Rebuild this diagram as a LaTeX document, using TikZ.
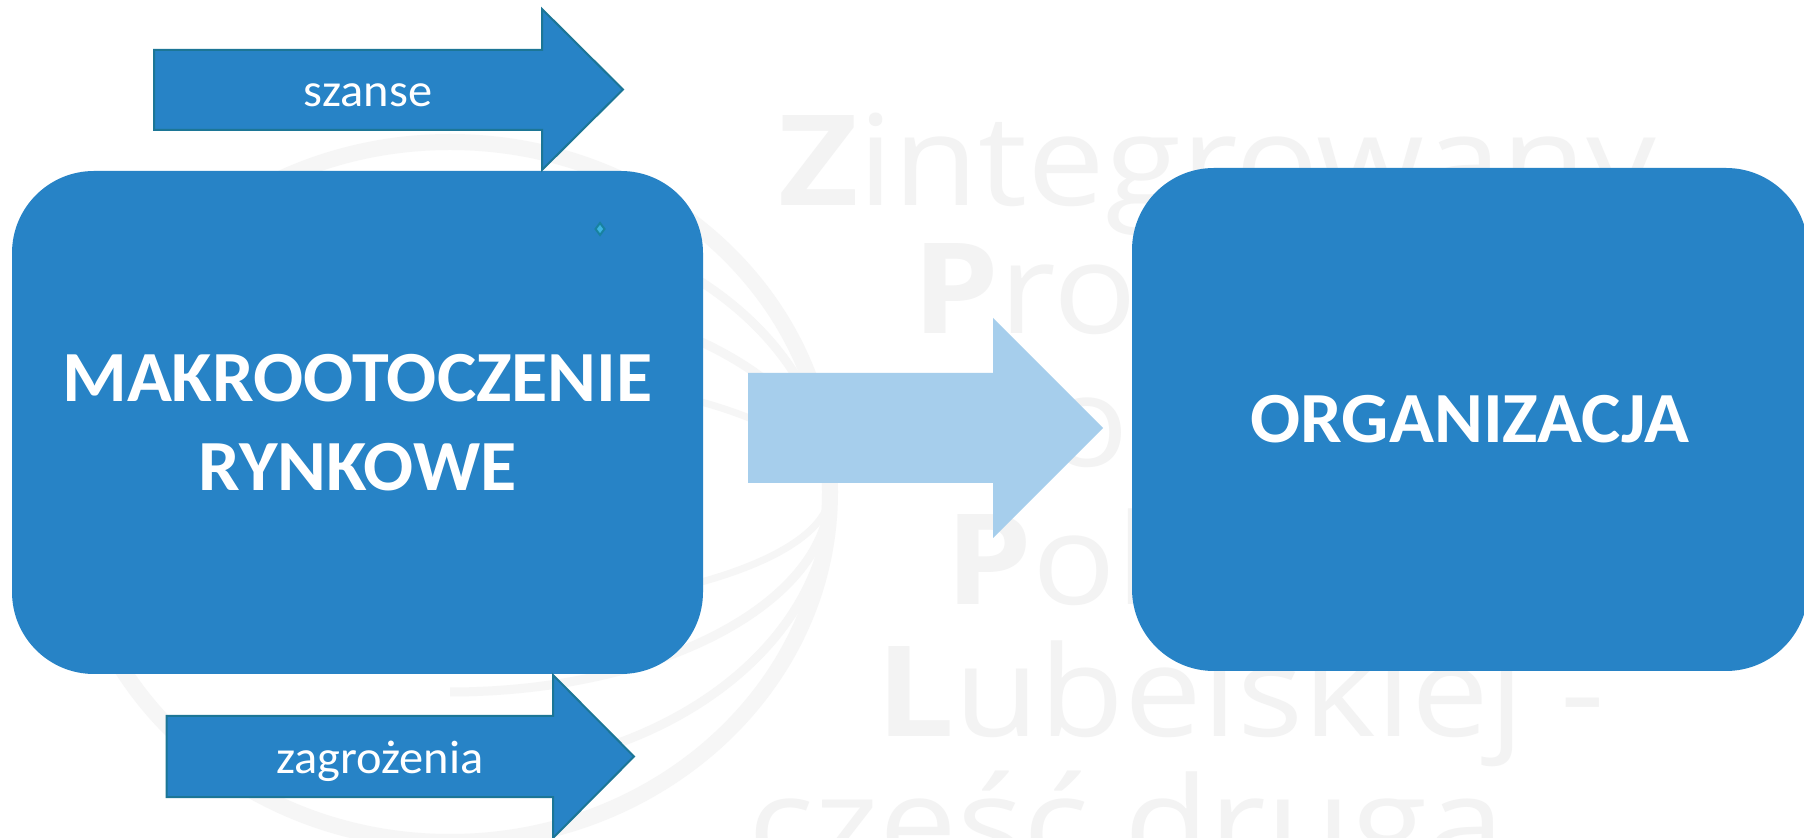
\documentclass[tikz,border=0pt]{standalone}
\usepackage{fontspec}
\setmainfont[FakeStretch=1.03]{Carlito}
\newfontfamily\wmfont[FakeStretch=1.10]{Open Sans}

\definecolor{boxblue}{RGB}{39,131,198}
\definecolor{arrowedge}{RGB}{28,118,150}
\definecolor{lightarrow}{RGB}{166,206,236}
\definecolor{wmgray}{RGB}{243,243,243}
\definecolor{logogray}{RGB}{246,246,246}
\definecolor{handleedge}{RGB}{24,130,160}
\definecolor{handlefill}{RGB}{60,180,225}

\tikzset{
  bigbox/.style={fill=boxblue, rounded corners=41pt, inner sep=0pt, text=white,
    font=\bfseries\fontsize{36}{44.5}\selectfont, align=center},
  blockarrow/.style={fill=boxblue, draw=arrowedge, line width=1pt, line join=miter},
  lbl/.style={text=white, inner sep=0pt, font=\fontsize{23.5}{28}\selectfont},
  wm/.style={text=wmgray, inner sep=0pt, anchor=base west,
    font=\wmfont\fontsize{63}{63}\selectfont},
  swoosh/.style={draw=logogray, line width=#1},
}

\begin{document}
\begin{tikzpicture}[x=0.5pt,y=-0.5pt]
\useasboundingbox (0,0) rectangle (1804,838);
\clip (0,0) rectangle (1804,838);
\fill[white] (0,0) rectangle (1804,838);

% faint logo in the background
\path[swoosh=8pt] (450,492) ellipse [x radius=380, y radius=350];
\begin{scope}
  \clip (450,0) rectangle (900,838);
  \path[swoosh=4.5pt] (450,492) ellipse [x radius=380, y radius=280];
  \path[swoosh=4.5pt] (450,492) ellipse [x radius=380, y radius=200];
  \path[swoosh=3.5pt] (450,492) ellipse [x radius=380, y radius=120];
\end{scope}

% faint slogan text
\node[wm] (wm1) at (778,206) {\textbf{Z}integrowany};
\node[wm] (wm2) at (912,334) {\textbf{P}rogram};
\node[wm] (wm3) at (954,467) {\textbf{R}ozwoju};
\node[wm] (wm4) at (945,605) {\textbf{P}olitechniki};
\node[wm] (wm5) at (876,737) {\textbf{L}ubelskiej -};
\node[wm] (wm6) at (748,867) {część druga};

% main blocks
\node[bigbox, minimum width=345.5pt, minimum height=251.5pt] (makro) at (357.5,422.5)
  {MAKROOTOCZENIE\\RYNKOWE};
\node[bigbox, minimum width=338pt, minimum height=251.5pt] (org) at (1470,419.5)
  {ORGANIZACJA};

% influence arrow between the blocks
\path[fill=lightarrow] (748,373) -- (993,373) -- (993,318) -- (1103,428)
  -- (993,538) -- (993,483) -- (748,483) -- cycle;

% opportunities and threats
\path[blockarrow] (154,50) -- (542,50) -- (542,9) -- (623,89.5)
  -- (542,170) -- (542,130) -- (154,130) -- cycle;
\node[lbl, anchor=base] (szanse) at (368,107) {szanse};

\path[blockarrow] (166.5,716) -- (553,716) -- (553,675) -- (634,756.5)
  -- (553,838) -- (553,797) -- (166.5,797) -- cycle;
\node[lbl, anchor=base] (zagr) at (380,773) {zagrożenia};

% small handle mark
\path[fill=handlefill, draw=handleedge, line width=1pt]
  (600,223) -- (604.5,229) -- (600,235) -- (595.5,229) -- cycle;
\end{tikzpicture}
\end{document}
